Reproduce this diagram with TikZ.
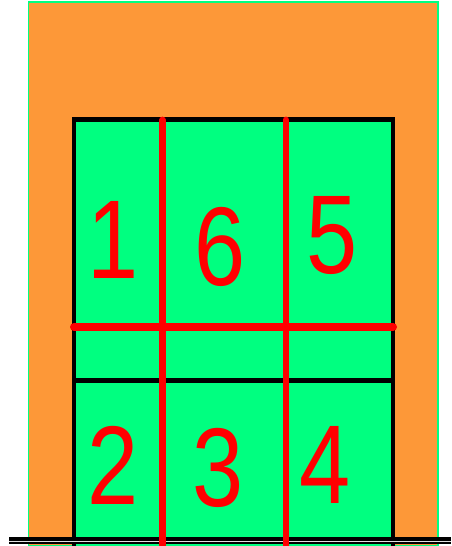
\documentclass[tikz,border=0pt]{standalone}
\usepackage{fontspec}
\setmainfont{Liberation Sans}
\definecolor{wall}{RGB}{253,152,56}
\definecolor{court}{RGB}{0,255,128}
\definecolor{netred}{RGB}{255,0,0}
\begin{document}
\begin{tikzpicture}[x=1pt, y=1pt, line join=miter,
    zone/.style={text=netred, font=\fontsize{112}{112}\selectfont, anchor=base, xscale=0.82, inner sep=0pt}]
	\useasboundingbox (0,0) rectangle (451,546);
	\path (28.5,544) coordinate (W1) (438,0) coordinate (W2)
	(74,0) coordinate (A) (393,0) coordinate (B)
	(74,426.5) coordinate (A1) (393,426.5) coordinate (B1)
	(162.5,0) coordinate (P) (286,0) coordinate (Q)
	(162.5,426) coordinate (P1) (286,426) coordinate (Q1);
	% wall and court
	\fill[wall, draw=court, line width=1.2pt] (W1) rectangle (W2);
	\fill[court] (A) rectangle (B1);
	\draw[line width=4.5pt] (A)--(A1)--(B1)--(B);
	\draw[line width=4.5pt] (74,165.5)--(393,165.5);
	% floor line
	\draw[line width=6.7pt] (9,5.35)--(451,5.35);
	\draw[white!88!black, line width=1.6pt] (9,4.5)--(451,4.5);
	% red lines
	\draw[netred, line width=8pt, line cap=round] (74,219)--(393,219);
	\foreach \x in {P,Q}{\draw[netred, line width=6.8pt, line cap=round] (\x)--(\x1);}
	\foreach \n/\x/\y in {1/113.5/267, 6/220/260, 5/332.5/272, 2/113/41, 3/218/39, 4/325.5/42}
	\node[zone] (z\n) at (\x,\y) {\n};
\end{tikzpicture}
\end{document}
